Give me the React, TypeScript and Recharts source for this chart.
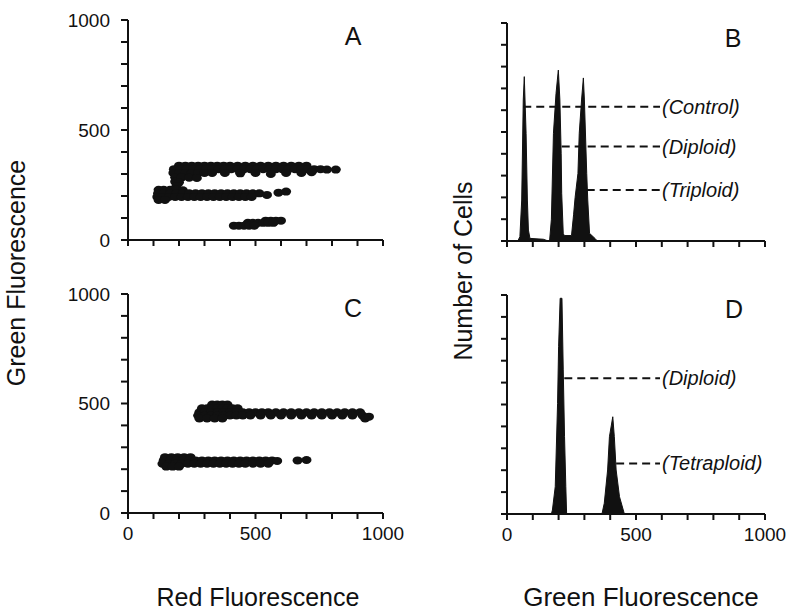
import {
  ScatterChart,
  Scatter,
  AreaChart,
  Area,
  XAxis,
  YAxis,
  ReferenceLine,
  ReferenceDot,
} from "recharts";

// axis ticks (labels only at 0 / 500 / 1000)
const TICKS = [0, 100, 200, 300, 400, 500, 600, 700, 800, 900, 1000];

// Panel A: red vs green fluorescence, [red, green]
const A_UPPER: [number, number][] = [
  [200, 338], [225, 338], [250, 338], [275, 338], [300, 338], [325, 338], [350, 338], [375, 338],
  [400, 338], [430, 338], [460, 338], [490, 338], [520, 338], [550, 338], [580, 338], [610, 338],
  [640, 338], [670, 338], [700, 338],
  [180, 322], [205, 322], [230, 322], [255, 322], [280, 322], [305, 322], [330, 322], [355, 322],
  [380, 322], [405, 322], [430, 322], [455, 322], [480, 322], [505, 322], [530, 322], [555, 322],
  [580, 322], [605, 322], [630, 322], [655, 322], [680, 322], [705, 322], [730, 322], [755, 322],
  [780, 320], [815, 320],
  [178, 305], [200, 305], [225, 305], [250, 305], [275, 305], [300, 305], [330, 305], [380, 305],
  [440, 303], [500, 305], [560, 300], [620, 305], [680, 305], [720, 308],
  [185, 285], [210, 285], [240, 283], [270, 282],
  [185, 265], [200, 262], [190, 245],
];
const A_MIDDLE: [number, number][] = [
  [120, 228], [140, 228], [165, 228], [190, 228], [215, 226],
  [118, 212], [140, 212], [165, 212], [190, 212], [215, 212], [240, 212], [265, 212], [290, 212],
  [315, 212], [340, 212], [365, 212], [390, 212], [415, 212], [440, 212], [465, 212], [490, 212],
  [515, 212],
  [115, 196], [135, 196], [160, 196], [185, 196], [210, 196], [235, 196], [260, 196], [285, 196],
  [310, 196], [335, 196], [360, 196], [385, 196], [410, 196], [435, 196], [460, 196], [485, 196],
  [120, 182], [145, 182],
  [545, 205], [590, 215], [620, 220],
];
const A_LOWER: [number, number][] = [
  [540, 88], [560, 88], [580, 88], [600, 88],
  [470, 78], [490, 78], [510, 78], [530, 78], [550, 78], [570, 78],
  [415, 65], [435, 65], [455, 65], [475, 65], [495, 65],
];

// Panel C
const C_UPPER: [number, number][] = [
  [330, 495], [350, 495], [370, 495], [390, 495],
  [290, 478], [310, 478], [330, 478], [350, 478], [370, 478], [390, 478], [410, 478], [430, 478],
  [280, 460], [300, 460], [325, 460], [350, 460], [375, 460], [400, 460], [425, 460], [450, 460],
  [475, 460], [500, 460], [525, 460], [550, 460], [580, 460], [610, 460], [640, 460], [670, 460],
  [700, 460], [730, 460], [760, 460], [790, 460], [820, 460], [850, 460], [880, 460], [910, 460],
  [275, 445], [300, 445], [325, 445], [350, 445], [375, 445], [400, 445], [425, 445], [450, 445],
  [480, 445], [520, 445], [560, 445], [600, 445], [640, 445], [680, 445], [720, 445], [760, 445],
  [800, 445], [840, 445], [880, 445], [920, 445],
  [280, 432], [310, 432], [340, 432], [370, 432], [930, 432], [945, 440],
];
const C_LOWER: [number, number][] = [
  [145, 255], [170, 255], [195, 255], [220, 255], [245, 255],
  [140, 240], [165, 240], [190, 240], [215, 240], [240, 240], [265, 240], [290, 240], [315, 240],
  [340, 240], [365, 240], [390, 240], [415, 240], [440, 240], [465, 240], [490, 240], [515, 240],
  [540, 240], [565, 240], [585, 238],
  [135, 225], [160, 225], [185, 225], [210, 225], [235, 225], [260, 225], [285, 225], [310, 225],
  [335, 225], [360, 225], [385, 225], [410, 225], [435, 225], [460, 225], [490, 225], [520, 225],
  [550, 225],
  [150, 212], [175, 212], [200, 212],
  [665, 240], [700, 242],
];

// Panel B: histogram, [green fluorescence, number of cells]
const B_HIST: [number, number][] = [
  [0, 0], [42, 0], [50, 20], [57, 188], [63, 647], [67, 754], [74, 494], [79, 188], [83, 50],
  [89, 12], [141, 8], [160, 0],
  [165, 0], [172, 100], [180, 494], [190, 677], [199, 784], [205, 647], [210, 400], [212, 219],
  [218, 35], [222, 25], [250, 25],
  [258, 120], [264, 200], [275, 310], [280, 494], [289, 647], [296, 748], [300, 647], [309, 310],
  [313, 188], [320, 35], [341, 12], [350, 0], [1000, 0],
];
const B_LABELS = ["(Control)", "(Diploid)", "(Triploid)"];
const B_LABEL_Y = [616, 433, 234];
const B_LINE_START = [63, 212, 309];

// Panel D
const D_HIST: [number, number][] = [
  [0, 0], [172, 0], [176, 18], [187, 125], [196, 505], [200, 764], [206, 985], [213, 985],
  [218, 658], [223, 353], [228, 125], [231, 3], [235, 0],
  [368, 0], [377, 49], [390, 201], [397, 353], [410, 444], [416, 353], [423, 201], [436, 79],
  [455, 0], [1000, 0],
];
const D_LABELS = ["(Diploid)", "(Tetraploid)"];
const D_LABEL_Y = [620, 231];
const D_LINE_START = [222, 423];

const LINE_END = 593;
const FONT = "'Liberation Sans', Arial, Helvetica, sans-serif";
const INK = "#111111";

const dot = (p: any) => <ellipse cx={p.cx} cy={p.cy} rx={5} ry={4} fill={INK} />;
const toXY = (pts: [number, number][]) => pts.map(([x, y]) => ({ x, y }));

function ScatterPanel({
  clusters,
  top,
  xLabels,
  marginTop,
  xHeight,
}: {
  clusters: [number, number][][];
  top: number;
  xLabels: boolean;
  marginTop: number;
  xHeight: number;
}) {
  return (
    <div style={{ position: "absolute", left: 0, top }}>
      <ScatterChart width={420} height={270} margin={{ top: marginTop, right: 37, bottom: 0, left: 0 }}>
        <XAxis
          type="number"
          dataKey="x"
          domain={[0, 1000]}
          ticks={TICKS}
          interval={0}
          height={xHeight}
          tickSize={6}
          tickMargin={8}
          tickFormatter={(v) => (xLabels && v % 500 === 0 ? String(v) : "")}
          tick={{ fontSize: 19, fill: INK, fontFamily: FONT }}
          stroke={INK}
          strokeWidth={2}
        />
        <YAxis
          type="number"
          dataKey="y"
          domain={[0, 1000]}
          ticks={TICKS}
          interval={0}
          width={128}
          tickSize={7}
          tickMargin={11}
          tickFormatter={(v) => (v % 500 === 0 ? String(v) : "")}
          tick={{ fontSize: 19, fill: INK, fontFamily: FONT }}
          stroke={INK}
          strokeWidth={2}
        />
        {clusters.map((c, i) => (
          <Scatter key={i} data={toXY(c)} fill={INK} shape={dot} isAnimationActive={false} />
        ))}
      </ScatterChart>
    </div>
  );
}

function HistPanel({
  hist,
  top,
  xLabels,
  marginTop,
  xHeight,
  labels,
  labelY,
  lineStart,
}: {
  hist: [number, number][];
  top: number;
  xLabels: boolean;
  marginTop: number;
  xHeight: number;
  labels: string[];
  labelY: number[];
  lineStart: number[];
}) {
  const data = hist.map(([x, n]) => ({ x, n }));
  return (
    <div style={{ position: "absolute", left: 440, top }}>
      <AreaChart width={346} height={270} data={data} margin={{ top: marginTop, right: 21, bottom: 0, left: 0 }}>
        <XAxis
          type="number"
          dataKey="x"
          domain={[0, 1000]}
          ticks={TICKS}
          interval={0}
          height={xHeight}
          tickSize={6}
          tickMargin={8}
          tickFormatter={(v) => (xLabels && v % 500 === 0 ? String(v) : "")}
          tick={{ fontSize: 19, fill: INK, fontFamily: FONT }}
          stroke={INK}
          strokeWidth={2}
        />
        <YAxis
          type="number"
          domain={[0, 1000]}
          ticks={TICKS}
          interval={0}
          width={67}
          tickSize={6}
          tickFormatter={() => ""}
          stroke={INK}
          strokeWidth={2}
        />
        <Area
          type="linear"
          dataKey="n"
          stroke={INK}
          strokeWidth={1}
          fill={INK}
          fillOpacity={1}
          isAnimationActive={false}
        />
        {labels.map((lab, i) => (
          <ReferenceLine
            key={"l" + i}
            segment={[
              { x: lineStart[i], y: labelY[i] },
              { x: LINE_END, y: labelY[i] },
            ]}
            stroke={INK}
            strokeWidth={2}
            strokeDasharray="8 5"
          />
        ))}
        {labels.map((lab, i) => (
          <ReferenceDot
            key={"t" + i}
            x={LINE_END}
            y={labelY[i]}
            r={0}
            shape={(p: any) => (
              <text
                x={p.cx + 2}
                y={p.cy}
                dominantBaseline="central"
                fontSize={20}
                fontStyle="italic"
                fontFamily={FONT}
                fill={INK}
              >
                {lab}
              </text>
            )}
          />
        ))}
      </AreaChart>
    </div>
  );
}

export default function App() {
  const textStyle = { fontFamily: FONT, fill: INK };
  return (
    <div style={{ position: "absolute", left: 0, top: 0, width: 786, height: 614, background: "#fff" }}>
      <ScatterPanel clusters={[A_UPPER, A_MIDDLE, A_LOWER]} top={0} xLabels={false} marginTop={20} xHeight={30} />
      <ScatterPanel clusters={[C_UPPER, C_LOWER]} top={274} xLabels marginTop={20} xHeight={31} />
      <HistPanel
        hist={B_HIST}
        top={0}
        xLabels={false}
        marginTop={23}
        xHeight={29}
        labels={B_LABELS}
        labelY={B_LABEL_Y}
        lineStart={B_LINE_START}
      />
      <HistPanel
        hist={D_HIST}
        top={274}
        xLabels
        marginTop={21}
        xHeight={30}
        labels={D_LABELS}
        labelY={D_LABEL_Y}
        lineStart={D_LINE_START}
      />
      <svg width={786} height={614} style={{ position: "absolute", left: 0, top: 0, pointerEvents: "none" }}>
        <g style={textStyle} fontSize={25}>
          <text x={353} y={45} textAnchor="middle">A</text>
          <text x={733} y={47} textAnchor="middle">B</text>
          <text x={353} y={317} textAnchor="middle">C</text>
          <text x={734} y={318} textAnchor="middle">D</text>
          <text x={258} y={606} textAnchor="middle">Red Fluorescence</text>
          <text x={641} y={606} textAnchor="middle" fontSize={26}>Green Fluorescence</text>
          <text transform="translate(25 273) rotate(-90)" textAnchor="middle">Green Fluorescence</text>
          <text transform="translate(472 271) rotate(-90)" textAnchor="middle">Number of Cells</text>
        </g>
      </svg>
    </div>
  );
}
